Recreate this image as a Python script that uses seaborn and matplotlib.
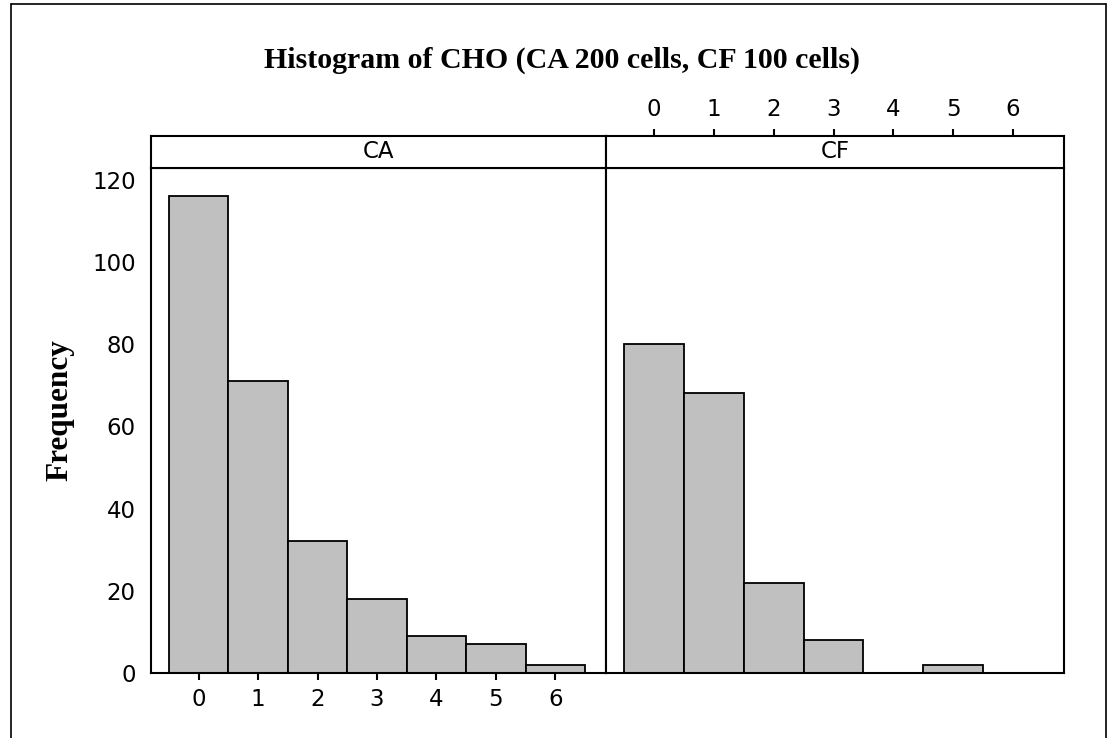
import numpy as np
import pandas as pd
import matplotlib
matplotlib.use("Agg")
import matplotlib.pyplot as plt
from matplotlib.lines import Line2D
import seaborn as sns

# ---- data ----
bins = [0, 1, 2, 3, 4, 5, 6]
ca_counts = [116, 71, 32, 18, 9, 7, 2]
cf_counts = [80, 68, 22, 8, 0, 2, 0]
y_ticks = [0, 20, 40, 60, 80, 100, 120]
panels = ["CA", "CF"]
title = "Histogram of CHO (CA 200 cells, CF 100 cells)"

sns.set_theme(style="white")
plt.rcParams['font.family'] = ['DejaVu Sans']
plt.rcParams['text.color'] = 'black'
plt.rcParams['axes.labelcolor'] = 'black'
plt.rcParams['xtick.color'] = 'black'
plt.rcParams['ytick.color'] = 'black'

W, H = 1109, 738
fig = plt.figure(figsize=(W / 100, H / 100), dpi=100)

def fx(px):
    return px / W

def fy(py):
    return 1 - py / H

plot_top, plot_bot = 168, 673
strip_top = 136
lefts = [151, 606]
rights = [606, 1064]

df = pd.DataFrame({
    "value": bins * 2,
    "count": ca_counts + cf_counts,
    "panel": ["CA"] * len(bins) + ["CF"] * len(bins),
})

tick_fs = 16.5
lw = 1.5
for i, name in enumerate(panels):
    ax = fig.add_axes([fx(lefts[i]), fy(plot_bot), fx(rights[i] - lefts[i]),
                       (plot_bot - plot_top) / H])
    sub = df[df["panel"] == name]
    sns.histplot(data=sub, x="value", weights="count", discrete=True,
                 color="#C0C0C0", edgecolor="black", linewidth=1.3,
                 alpha=1, ax=ax)
    ax.set_xlim(-0.8, 6.85)
    ax.set_ylim(0, 122.8)
    ax.set_xlabel("")
    ax.set_ylabel("")
    for s in ax.spines.values():
        s.set_linewidth(lw)
        s.set_color("black")
    ax.set_xticks(bins)
    ax.tick_params(axis="both", direction="out", length=5, width=lw,
                   colors="black", labelsize=tick_fs, pad=6)
    if i == 0:
        ax.set_yticks(y_ticks)
        ax.tick_params(axis="x", bottom=True, labelbottom=True)
    else:
        ax.set_yticks([])
        ax.tick_params(axis="x", bottom=False, labelbottom=False)

    # strip
    sax = fig.add_axes([fx(lefts[i]), fy(plot_top), fx(rights[i] - lefts[i]),
                        (plot_top - strip_top) / H], sharex=ax)
    sax.set_yticks([])
    for s in sax.spines.values():
        s.set_linewidth(lw)
        s.set_color("black")
    sax.text(0.5, 0.5, name, transform=sax.transAxes, ha="center",
             va="center", fontsize=tick_fs, color="black")
    if i == 1:
        sax.tick_params(axis="x", top=True, labeltop=True, bottom=False,
                        labelbottom=False, direction="out", length=5,
                        width=lw, colors="black", labelsize=tick_fs, pad=6)
    else:
        sax.tick_params(axis="x", top=False, labeltop=False, bottom=False,
                        labelbottom=False)
    sax.set_xlabel("")

fig.text(fx(562), fy(60), title, ha="center", va="center",
         family="Liberation Serif", weight="bold", fontsize=21.5, color="black")
fig.text(fx(60), fy(410), "Frequency", ha="center", va="center", rotation=90,
         family="Liberation Serif", weight="bold", fontsize=22.5, color="black")

# figure border
for (x0, y0, x1, y1) in [(11, 4, 1106, 4), (11, 4, 11, 738), (1106, 4, 1106, 738)]:
    fig.add_artist(Line2D([fx(x0), fx(x1)], [fy(y0), fy(y1)],
                          transform=fig.transFigure, color="black", lw=1.2))

fig.savefig("out.png", dpi=100, facecolor="white")
